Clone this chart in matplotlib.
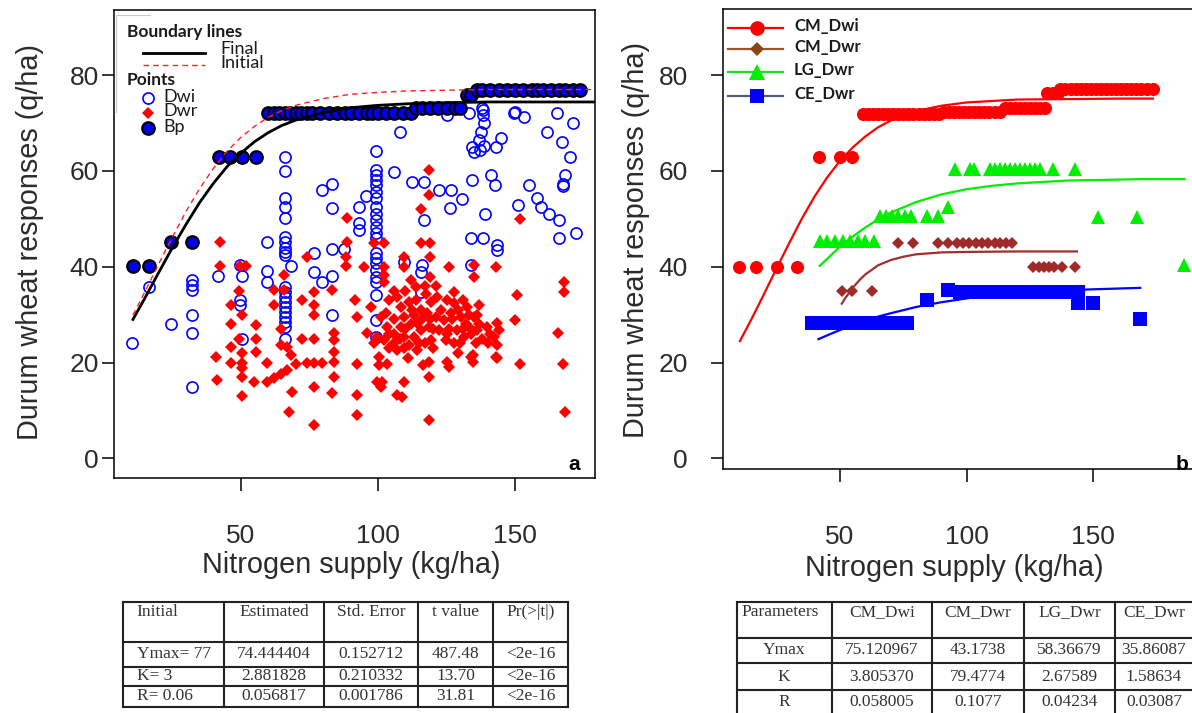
import matplotlib
matplotlib.use("Agg")
import matplotlib.pyplot as plt

plt.rcParams['font.family'] = ['Liberation Sans', 'DejaVu Sans']

# ---- panel a: scatter data (N supply kg/ha, yield q/ha)
dwi_x = [10.5, 16.6, 24.7, 32.1, 32.1, 32.1, 32.1, 32.1, 32.1, 41.8, 49.7, 50.6, 49.7, 49.7, 50.4,
         59.7, 59.7, 59.7, 66.1, 66.1, 66.1, 66.1, 66.1, 66.1, 66.1, 66.1, 66.1, 66.1, 66.1, 66.1,
         66.1, 66.1, 66.1, 66.1, 66.1, 66.1, 66.1, 66.1, 68.2, 76.7, 76.7, 79.7, 79.7, 83.4, 83.4,
         83.4, 83.4, 83.4, 87.6, 93.1, 93.1, 93.1, 95.6, 99.2, 99.2, 99.2, 99.2, 99.2, 99.2, 99.2,
         99.2, 99.2, 99.2, 99.2, 99.2, 99.2, 99.2, 99.2, 99.2, 99.2, 99.2, 99.2, 99.2, 99.2, 99.2,
         105.9, 107.9, 109.5, 112.5, 116.8, 116.8, 116.2, 115.6, 115.6, 122.3, 126.5, 126.2, 130.8,
         125.0, 133.0, 137.8, 138.1, 138.1, 138.7, 137.5, 136.8, 134.4, 135.0, 137.2, 138.7, 134.4,
         134.0, 133.8, 138.4, 139.0, 141.1, 142.6, 142.9, 145.0, 143.3, 143.3, 149.6, 150.0, 153.3,
         151.1, 155.1, 158.1, 159.3, 162.4, 161.7, 165.2, 166.0, 166.0, 167.2, 168.1, 167.6, 167.6,
         170.0, 171.2, 172.1]
dwi_y = [24.1, 35.8, 28.0, 37.2, 36.2, 35.2, 29.9, 26.1, 14.8, 38.1, 40.4, 38.1, 33.0, 32.0, 25.0,
         45.1, 39.2, 36.9, 63.0, 60.0, 54.3, 52.5, 50.1, 46.3, 45.2, 44.0, 43.1, 42.4, 35.8, 34.8,
         33.7, 32.7, 31.6, 30.6, 29.6, 28.5, 27.5, 25.0, 40.1, 42.9, 39.0, 56.0, 36.9, 57.3, 52.2,
         43.8, 38.1, 29.9, 43.8, 52.5, 49.1, 47.7, 54.8, 64.2, 60.2, 59.1, 58.1, 57.1, 55.6, 54.3,
         52.5, 51.1, 49.7, 48.4, 47.0, 45.9, 42.8, 41.8, 40.7, 39.3, 37.9, 36.9, 34.1, 28.9, 25.4,
         59.8, 68.2, 41.0, 57.7, 57.7, 49.7, 40.4, 39.0, 34.8, 56.0, 56.0, 52.2, 54.1,
         71.7, 72.0, 73.1, 72.7, 71.7, 70.1, 68.2, 66.5, 64.9, 64.0, 64.4, 65.2, 58.1,
         45.9, 40.4, 45.9, 51.0, 59.1, 57.1, 64.9, 66.9, 44.5, 43.5, 72.0, 72.4, 71.2,
         52.9, 57.1, 54.3, 52.5, 51.1, 68.2, 72.0, 49.7, 45.9, 66.1, 59.1, 57.3, 56.9,
         63.0, 70.1, 47.1]

dwr_x = [40.9, 41.3, 42.5, 42.5, 46.4, 46.4, 46.4, 46.4, 49.4, 49.7, 51.8, 50.6, 50.6, 50.6, 50.6,
         50.6, 50.6, 49.4, 54.8, 55.5, 55.5, 55.5, 59.7, 59.7, 62.1, 62.1, 62.1, 64.6, 64.6, 64.6,
         65.8, 65.8, 67.0, 67.0, 68.2, 70.0, 68.8, 67.6, 72.4, 72.4, 74.3, 74.3, 76.7, 76.7, 76.7,
         76.7, 76.7, 76.7, 76.7, 79.7, 83.4, 83.4, 84.0, 84.0, 84.0, 84.0, 84.0, 88.6, 88.8, 88.3,
         88.3, 91.7, 92.3, 92.3, 92.3, 92.3, 94.9, 95.9, 97.4, 98.6, 98.6, 99.8, 99.6, 100.4, 100.4,
         101.0, 101.0, 101.4, 102.2, 102.2, 102.2, 102.2, 102.8, 102.2, 103.4, 103.4, 104.0, 105.9,
         106.9, 107.0, 107.1, 108.3, 108.3, 108.7, 109.5, 109.5, 109.5, 109.5, 109.5, 109.5, 111.3,
         111.3, 112.0, 112.5, 113.2, 113.8, 114.4, 114.4, 115.6, 115.6, 115.6, 115.6, 116.5, 117.4,
         118.0, 118.6, 118.6, 118.6, 118.6, 118.6, 118.6, 119.0, 119.0, 119.0, 119.2, 119.2, 121.0,
         121.6, 122.3, 124.1, 124.7, 125.3, 125.9, 125.9, 126.5, 127.7, 127.7, 127.7, 128.9, 130.2,
         131.4, 132.6, 133.2, 133.8, 134.8, 135.0, 135.0, 135.0, 135.6, 136.2, 134.8, 139.9, 142.3,
         142.9, 142.9, 143.3, 143.5, 143.3, 144.1, 150.0, 150.6, 151.8, 151.8, 165.7, 167.8, 167.8,
         167.6, 168.2,
         104.0, 106.0, 110.0, 112.0, 114.0, 116.0, 117.0, 120.0, 120.0, 121.0, 110.0, 106.0, 108.0,
         113.0, 117.0, 111.0, 115.0, 119.0, 104.0, 106.0, 123.0, 125.0, 126.0, 127.0, 129.0, 130.0,
         131.0, 132.0, 133.0, 134.0, 136.0, 137.0, 129.0, 131.0, 125.0, 137.0, 138.0, 140.0, 141.0]
dwr_y = [21.1, 16.3, 45.1, 40.1, 32.0, 28.0, 23.3, 20.0, 35.0, 40.1, 40.1, 29.9, 21.9, 20.0, 18.8,
         17.0, 13.0, 25.0, 16.0, 27.8, 25.0, 22.3, 20.0, 16.0, 35.1, 32.0, 16.7, 27.1, 23.7, 17.7,
         38.3, 35.1, 23.3, 18.4, 21.6, 19.8, 13.9, 9.7, 33.0, 25.0, 42.1, 20.0, 34.8, 32.0, 29.9,
         25.0, 20.0, 14.9, 7.0, 20.0, 35.1, 13.7, 26.1, 24.7, 22.3, 20.2, 17.0, 50.1, 45.2, 42.1,
         40.1, 33.0, 29.6, 19.8, 13.2, 9.0, 40.0, 26.1, 31.6, 44.9, 24.0, 25.4, 16.0, 21.2, 19.5,
         29.6, 14.9, 16.0, 44.9, 40.0, 38.3, 36.9, 30.3, 24.7, 27.5, 19.8, 26.0, 24.0,
         13.2, 33.7, 22.6, 31.6, 27.5, 12.9, 42.1, 40.0, 29.6, 25.4, 23.0, 16.0, 32.7,
         23.7, 37.2, 31.0, 25.4, 35.8, 28.2, 22.6, 52.0, 45.0, 31.0, 26.8, 19.5, 34.4,
         30.3, 27.5, 60.2, 55.0, 20.2, 17.0, 8.0, 45.0, 42.1, 37.9, 32.7, 24.7, 29.6,
         33.7, 26.8, 28.9, 24.7, 20.2, 19.1, 40.0, 30.3, 34.8, 32.4, 24.0, 26.8, 29.6,
         25.4, 31.6, 27.5, 21.2, 21.6, 40.4, 37.9, 29.6, 24.0, 26.8, 20.2, 27.5, 25.4,
         40.0, 21.2, 28.2, 23.7, 20.9, 26.8, 28.9, 34.1, 49.9, 19.8, 26.1, 36.9, 34.8,
         19.8, 9.7,
         33.0, 35.0, 35.0, 28.0, 33.0, 29.0, 24.0, 27.0, 23.0, 36.0, 27.0, 29.0, 25.0,
         30.0, 36.0, 21.0, 24.0, 29.0, 23.0, 26.0, 31.0, 33.0, 27.0, 29.0, 31.0, 24.0,
         33.0, 28.0, 30.0, 26.0, 30.0, 28.0, 22.0, 27.0, 26.0, 32.0, 25.0, 24.0, 26.0]

bp_x = [10.8, 16.6, 24.5, 32.1, 42.1, 46.1, 50.6, 55.5,
        60, 62, 64, 66, 68, 70, 72, 74, 76, 79, 82, 85, 88, 90, 93, 96, 98, 100, 103, 106, 109, 112,
        114, 116, 119, 122, 125, 128, 130, 132.5, 134,
        136, 138, 141, 144, 147, 150, 153, 156, 158, 160, 163, 166, 168, 171, 173.5]
bp_y = [40.1, 40.1, 45.2, 45.2, 63.0, 63.0, 63.0, 63.0,
        72, 72, 72, 72, 72, 72, 72, 72, 72, 72, 72, 72, 72, 72, 72, 72, 72, 72, 72, 72, 72, 72,
        73.1, 73.1, 73.1, 73.1, 73.1, 73.1, 73.1, 75.8, 75.8,
        77, 77, 77, 77, 77, 77, 77, 77, 77, 77, 77, 77, 77, 77, 77]

# boundary lines
bl_x = [10.7, 15, 20, 25, 30, 35, 40, 45, 50, 55, 60, 65, 70, 80, 90, 100, 110, 120, 140, 160, 180]
final_y = [29.0, 33.4, 38.7, 43.9, 48.8, 53.4, 57.4, 60.9, 63.7, 66.1, 68.0, 69.5, 70.6, 72.2,
           73.2, 73.7, 74.0, 74.2, 74.4, 74.4, 74.4]
initial_y = [29.9, 34.7, 40.5, 46.1, 51.5, 56.3, 60.5, 64.1, 67.0, 69.3, 71.2, 72.6, 73.7, 75.1,
             76.0, 76.4, 76.7, 76.8, 77.0, 77.0, 77.0]

# ---- panel b: boundary points per region
cmdwi_x = [10.3, 16.9, 25.0, 32.9, 41.7, 50.0, 54.6,
           59.2, 61, 63, 65, 67, 69, 71, 73, 75, 77, 79, 81, 83, 85, 87, 89, 91, 93, 95, 97, 99, 101,
           103, 105, 107, 109, 111, 113, 115, 117, 119, 121, 123, 125, 127, 129, 131, 131.6, 134, 136,
           137, 139, 141, 143, 145, 147, 149, 151, 153, 155, 157, 159, 161, 163, 165, 167, 169, 171, 173.5]
cmdwi_y = [40, 40, 40, 40, 63, 63, 63,
           71.8, 71.8, 71.8, 71.8, 71.8, 71.8, 71.8, 71.8, 71.8, 71.8, 71.8, 71.8, 71.8, 71.8, 71.8, 71.8,
           72.2, 72.2, 72.2, 72.2, 72.2, 72.2, 72.2, 72.2, 72.2, 72.2, 72.2, 72.2, 73.1, 73.1, 73.1, 73.1,
           73.1, 73.1, 73.1, 73.1, 73.1, 76.2, 76.2, 76.2,
           77.1, 77.1, 77.1, 77.1, 77.1, 77.1, 77.1, 77.1, 77.1, 77.1, 77.1, 77.1, 77.1, 77.1, 77.1, 77.1,
           77.1, 77.1, 77.1]
cmdwr_x = [50.7, 54.6, 62.5, 73.0, 79.0, 88.8, 92.8, 96, 98.7, 101, 103.5, 106, 108.5, 111, 113,
           115.5, 117.8, 126.3, 128.5, 130.5, 132.5, 134.5, 137.5, 142.8]
cmdwr_y = [34.9, 34.9, 34.9, 45, 45, 45, 45, 45, 45, 45, 45, 45, 45, 45, 45, 45, 45,
           40, 40, 40, 40, 40, 40, 40]
lgdwr_x = [42, 45, 48, 51, 54, 57, 60, 63.5, 65.8, 68, 70.5, 73, 75.5, 78, 84.2, 88.8, 92.8,
           95.4, 101.3, 103, 109.2, 111, 113.2, 115, 117.1, 119, 121.1, 123, 125.1, 127, 129, 134.2,
           142.8, 152.0, 167.1, 185.6]
lgdwr_y = [45.3, 45.3, 45.3, 45.3, 45.3, 45.3, 45.3, 45.3, 50.6, 50.6, 50.6, 50.6, 50.6, 50.6,
           50.6, 50.6, 52.5, 60.5, 60.5, 60.5, 60.5, 60.5, 60.5, 60.5, 60.5, 60.5, 60.5, 60.5, 60.5,
           60.5, 60.5, 60.5, 60.5, 50.4, 50.4, 40.4]
cedwr_x = [38.8, 41, 43, 45, 47, 49, 51, 53, 55, 57, 59, 61, 63, 65, 67, 69, 71.1, 76.4, 84.2, 92.8,
           97.4, 99.5, 101.5, 103.5, 105.5, 107.5, 109.5, 111.5, 113.5, 115.5, 117.5, 119.5, 121.5,
           123.5, 125.5, 127.5, 129.5, 131.5, 133.5, 135.5, 137.5, 139.5, 141.5, 144.1, 144.1, 150.0,
           168.5]
cedwr_y = [28.2] * 18 + [33.0, 35.1] + [34.8] * 24 + [32.4, 32.4, 29.2]

# fitted lines
fit_cmdwi_x = [10.5, 15, 20, 25, 30, 35, 40, 45, 50, 55, 60, 65, 70, 80, 90, 100, 110, 120, 140, 160, 173.5]
fit_cmdwi_y = [24.5, 29.0, 34.3, 39.7, 45.0, 50.1, 54.7, 58.7, 62.1, 64.9, 67.2, 69.1, 70.5, 72.5,
               73.6, 74.3, 74.6, 74.9, 75.0, 75.1, 75.1]
fit_cmdwr_x = [50.7, 52, 55, 58, 60, 65, 70, 75, 80, 90, 100, 120, 143.5]
fit_cmdwr_y = [32.3, 33.4, 35.6, 37.4, 38.4, 40.3, 41.4, 42.1, 42.6, 43.0, 43.1, 43.2, 43.2]
fit_lgdwr_x = [42, 45, 50, 55, 60, 65, 70, 80, 90, 100, 110, 120, 130, 140, 150, 160, 170, 186]
fit_lgdwr_y = [40.2, 41.7, 44.2, 46.3, 48.2, 49.9, 51.3, 53.5, 55.1, 56.2, 56.9, 57.4, 57.7, 58.0,
               58.1, 58.2, 58.3, 58.3]
fit_cedwr_x = [41.5, 45, 50, 55, 60, 65, 70, 80, 90, 100, 110, 120, 130, 140, 150, 168.5]
fit_cedwr_y = [24.9, 25.7, 26.8, 27.8, 28.7, 29.6, 30.3, 31.6, 32.6, 33.4, 34.1, 34.5, 34.9, 35.1,
               35.3, 35.6]

# ---- tables
tab_a_head = ["Initial", "Estimated", "Std. Error", "t value", "Pr(>|t|)"]
tab_a_rows = [["Ymax= 77", "74.444404", "0.152712", "487.48", "<2e-16"],
              ["K= 3", "2.881828", "0.210332", "13.70", "<2e-16"],
              ["R= 0.06", "0.056817", "0.001786", "31.81", "<2e-16"]]
tab_b_head = ["Parameters", "CM_Dwi", "CM_Dwr", "LG_Dwr", "CE_Dwr"]
tab_b_rows = [["Ymax", "75.120967", "43.1738", "58.36679", "35.86087"],
              ["K", "3.805370", "79.4774", "2.67589", "1.58634"],
              ["R", "0.058005", "0.1077", "0.04234", "0.03087"]]

W, H = 1192, 713
fig = plt.figure(figsize=(W / 100, H / 100), dpi=100)


def px_axes(l, t, r, b, **kw):
    return fig.add_axes([l / W, 1 - b / H, (r - l) / W, (b - t) / H], **kw)


TXT = '#2b2b2b'
ax1 = px_axes(114, 10, 595, 478)
ax2 = px_axes(722.7, 9, 1200, 468.5)

# panel a
ax1.plot(dwi_x, dwi_y, 'o', ms=8, mfc='none', mec='#0000FF', mew=1.2, zorder=2)
ax1.plot(dwr_x, dwr_y, 'D', ms=6.4, color='#FF0000', mew=0, zorder=3)
ax1.plot(bp_x, bp_y, 'o', ms=9, mfc='#0000EE', mec='black', mew=1.6, zorder=4)
ax1.plot(bl_x, final_y, '-', color='black', lw=2.0, zorder=5)
ax1.plot(bl_x, initial_y, '--', color='#FF2020', lw=1.0, dashes=(4, 3), zorder=6)
ax1.set_xlim(3.8, 179.1)
ax1.set_ylim(-4.1, 93.6)

# panel b
ax2.plot(fit_cmdwi_x, fit_cmdwi_y, '-', color='#FF0000', lw=1.6, zorder=3)
ax2.plot(cmdwi_x, cmdwi_y, 'o', ms=9.4, color='#FF0000', mew=0, zorder=2)
ax2.plot(fit_cmdwr_x, fit_cmdwr_y, '-', color='#A0302E', lw=1.6, zorder=3)
ax2.plot(cmdwr_x, cmdwr_y, 'D', ms=5.8, color='#9E2A2A', mew=0, zorder=2)
ax2.plot(fit_lgdwr_x, fit_lgdwr_y, '-', color='#00EE00', lw=1.6, zorder=3)
ax2.plot(lgdwr_x, lgdwr_y, '^', ms=10.5, color='#00EE00', mew=0, zorder=2)
ax2.plot(fit_cedwr_x, fit_cedwr_y, '-', color='#0000FF', lw=1.6, zorder=3)
ax2.plot(cedwr_x, cedwr_y, 's', ms=10, color='#0000FF', mew=0, zorder=2)
ax2.set_xlim(3.7, 192.1)
ax2.set_ylim(-2.1, 93.8)

for ax in (ax1, ax2):
    ax.set_xticks([50, 100, 150])
    ax.set_yticks([0, 20, 40, 60, 80])
    for s in ax.spines.values():
        s.set_linewidth(1.1)
    ax.tick_params(direction='out', length=9, width=1.1, labelsize=19, labelcolor=TXT)
ax1.tick_params(axis='x', pad=24)
ax2.tick_params(axis='x', pad=32)
ax1.tick_params(axis='y', pad=2)
ax2.tick_params(axis='y', pad=16)

# overlay in pixel coordinates for labels, legends and tables
ov = fig.add_axes([0, 0, 1, 1], zorder=10)
ov.set_xlim(0, W)
ov.set_ylim(H, 0)
ov.axis('off')
ov.patch.set_alpha(0)

ylab = 'Durum wheat responses (q/ha)'
xlab = 'Nitrogen supply (kg/ha)'
ov.text(30, 242, ylab, rotation=90, ha='center', va='center', fontsize=20.8, color=TXT)
ov.text(636, 240, ylab, rotation=90, ha='center', va='center', fontsize=20.8, color=TXT)
ov.text(351, 565, xlab, ha='center', va='center', fontsize=20.8, color=TXT)
ov.text(954, 568, xlab, ha='center', va='center', fontsize=20.8, color=TXT)
ov.text(574, 465, 'a', ha='center', va='center', fontsize=15, fontweight='bold', color='black')
ov.text(1182, 465, 'b', ha='center', va='center', fontsize=15, fontweight='bold', color='black')

# legend panel a
LF = ['Lato', 'DejaVu Sans']
ov.text(127, 32, 'Boundary lines', fontsize=12.5, fontweight='bold', family=LF, va='center', color='#1a1a1a')
ov.plot([143, 205], [53, 53], '-', color='black', lw=2.0)
ov.text(220, 49, 'Final', fontsize=13, family=LF, va='center', color='#1a1a1a')
ov.plot([143, 205], [65, 65], '--', color='#FF2020', lw=1.0, dashes=(4, 3))
ov.text(220, 63, 'Initial', fontsize=13, family=LF, va='center', color='#1a1a1a')
ov.text(127, 80, 'Points', fontsize=12.5, fontweight='bold', family=LF, va='center', color='#1a1a1a')
ov.plot([148], [98], 'o', ms=8, mfc='none', mec='#0000FF', mew=1.2)
ov.text(163, 97, 'Dwi', fontsize=13, family=LF, va='center', color='#1a1a1a')
ov.plot([148], [113], 'D', ms=6, color='#FF0000', mew=0)
ov.text(163, 111, 'Dwr', fontsize=13, family=LF, va='center', color='#1a1a1a')
ov.plot([148], [128], 'o', ms=9, mfc='#0000EE', mec='black', mew=1.6)
ov.text(163, 127, 'Bp', fontsize=13, family=LF, va='center', color='#1a1a1a')
# faint frame corner of the legend box
ov.plot([116, 116, 150], [112, 15, 15], '-', color='#c8c8c8', lw=0.8)

# legend panel b
leg_b = [('CM_Dwi', '#FF0000', 'o', '#FF0000', 10.5, 28),
         ('CM_Dwr', '#A0522D', 'D', '#8B4513', 7.5, 49),
         ('LG_Dwr', '#22DD22', '^', '#00EE00', 11, 72),
         ('CE_Dwr', '#4F5F7A', 's', '#0000FF', 10.5, 96)]
for name, lc, mk, mc, ms, yy in leg_b:
    ov.plot([728, 783], [yy, yy], '-', color=lc, lw=1.6)
    ov.plot([757], [yy], mk, ms=ms, color=mc, mew=0)
    ov.text(794, yy - 2, name, fontsize=12, fontweight='bold', family=LF, va='center', color='#1a1a1a')

# tables
SF = ['Liberation Serif', 'DejaVu Serif']


def draw_table(cols, rows, head, body, head_y, body_y, first_left, body_left, centers):
    for x in cols:
        ov.plot([x, x], [rows[0], rows[-1]], '-', color='#222222', lw=1.5)
    for y in rows:
        ov.plot([cols[0], cols[-1]], [y, y], '-', color='#222222', lw=1.5)
    kw = dict(va='center', fontsize=12.5, family=SF, color='#333333')
    ov.text(cols[0] + first_left, head_y, head[0], ha='left', **kw)
    for j in range(1, len(head)):
        ov.text(centers[j], head_y, head[j], ha='center', **kw)
    for i, row in enumerate(body):
        for j, t in enumerate(row):
            if j == 0 and body_left:
                ov.text(cols[0] + first_left, body_y[i], t, ha='left', **kw)
            else:
                ov.text(centers[j], body_y[i], t, ha='center', **kw)


cols_a = [122.7, 224, 324, 418.3, 492.7, 568.3]
draw_table(cols_a, [601.7, 642, 667, 686, 706.5], tab_a_head, tab_a_rows, 612, [654, 676, 696],
           14, True, [(cols_a[j] + cols_a[j + 1]) / 2 for j in range(5)])
cols_b = [736.7, 831.7, 931.7, 1024, 1115, 1215]
draw_table(cols_b, [601.7, 638.3, 663.3, 690, 725], tab_b_head, tab_b_rows, 612, [650, 677, 701.5],
           5, False, [784, 881.7, 977.8, 1069.5, 1154])

fig.savefig('out.png', dpi=100)
